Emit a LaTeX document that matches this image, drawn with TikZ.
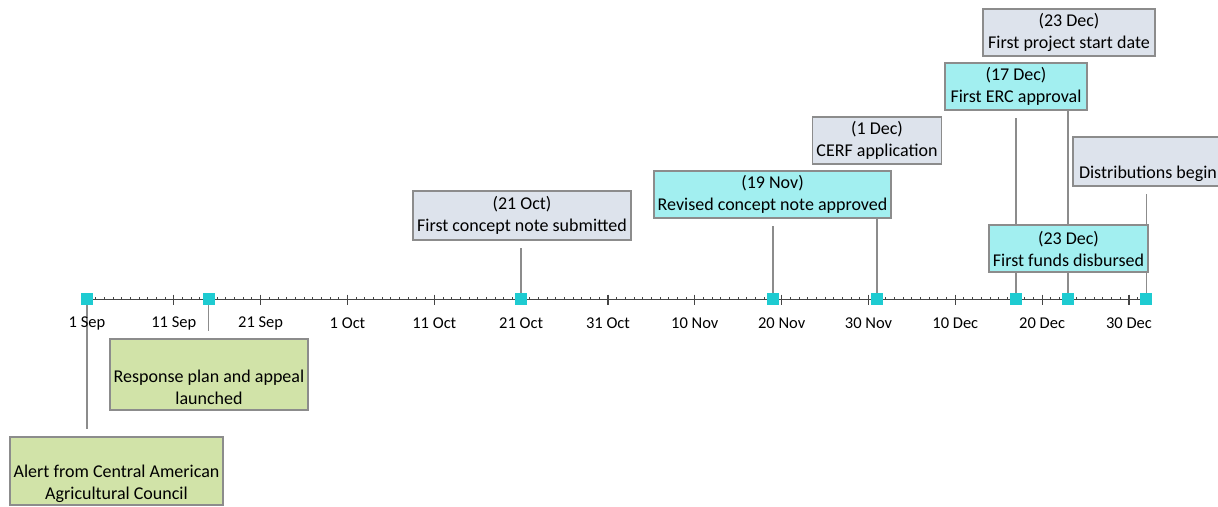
\documentclass[tikz,border=0pt]{standalone}
\usepackage{fontspec}
\setmainfont{Carlito}
\usetikzlibrary{positioning}
\definecolor{boxgray}{HTML}{DDE3EC}
\definecolor{boxcyan}{HTML}{A2EFF0}
\definecolor{boxgreen}{HTML}{D1E3A8}
\definecolor{edgegray}{HTML}{8C8C8C}
\definecolor{markcyan}{HTML}{1ECBD1}
\definecolor{axisgray}{HTML}{454545}
\pgfdeclarelayer{background}
\pgfsetlayers{background,main}
\begin{document}
\begin{tikzpicture}[x=1pt,y=-1pt,
  event/.style={draw=edgegray, line width=1.4pt, inner sep=0pt, align=center,
    font=\fontsize{18}{22}\selectfont, text=black},
  grayev/.style={event, fill=boxgray},
  cyanev/.style={event, fill=boxcyan},
  greenev/.style={event, fill=boxgreen},
  marker/.style={fill=markcyan, draw=none, minimum width=12pt, minimum height=12pt, inner sep=0pt},
  conn/.style={draw=edgegray, line width=1.4pt, shorten >=7pt},
  axisline/.style={draw=axisgray, line width=1.8pt},
  minortick/.style={draw=axisgray, line width=1pt},
  majortick/.style={draw=axisgray, line width=1.2pt},
  datelabel/.style={font=\fontsize{16.5}{18}\selectfont, text=black, inner sep=0pt}
]
\useasboundingbox (0,0) rectangle (1218,506);
\clip (0,0) rectangle (1218,506);

% time axis: 1 Sep is day 0, 8.683 units per day
\draw[axisline] (87,299.5) -- (1146,299.5);
\foreach \d in {0,...,122}
  \draw[minortick] ({87+\d*8.683},299.5) -- ++(0,-3);
\foreach \d in {0,10,...,120}
  \draw[majortick] ({87+\d*8.683},294.5) -- ++(0,10);
\foreach \lab [count=\i from 0] in {1 Sep,11 Sep,21 Sep,1 Oct,11 Oct,21 Oct,31 Oct,10 Nov,20 Nov,30 Nov,10 Dec,20 Dec,30 Dec}
  \node[datelabel] (tl\i) at ({87+\i*86.83},323) {\lab};

% milestone markers on the axis
\node[marker] (m1) at ({87+0*8.683},299) {};
\node[marker] (m2) at ({87+14*8.683},299) {};
\node[marker] (m3) at ({87+50*8.683},299) {};
\node[marker] (m4) at ({87+79*8.683},299) {};
\node[marker] (m5) at ({87+91*8.683},299) {};
\node[marker] (m6) at ({87+107*8.683},299) {};
\node[marker] (m7) at ({87+113*8.683},299) {};
\node[marker] (m8) at ({87+122*8.683},299) {};

% event boxes
\node[greenev, minimum width=213pt, minimum height=68pt] (b1) at (116.5,471)
  {\strut\\Alert from Central American \\Agricultural Council};
\node[greenev, minimum width=198pt, minimum height=71pt] (b2) at (209,374.5)
  {\strut\\Response plan and appeal \\launched};
\node[grayev, minimum width=218pt, minimum height=49pt] (b3) at (522,215.5)
  {(21 Oct)\\First concept note submitted};
\node[cyanev, minimum width=237pt, minimum height=47pt] (b4) at (772.5,194.5)
  {(19 Nov)\\Revised concept note approved};
\node[grayev, minimum width=129pt, minimum height=47pt] (b5) at (877,140.5)
  {(1 Dec)\\CERF application};
\node[cyanev, minimum width=142pt, minimum height=47pt] (b6) at (1016,86.5)
  {(17 Dec)\\First ERC approval};
\node[grayev, minimum width=172pt, minimum height=47pt] (b7) at (1069,32.5)
  {(23 Dec)\\First project start date};
\node[grayev, minimum width=150pt, minimum height=49pt] (b8) at (1148,161.5)
  {\strut\\Distributions begin};
\node[cyanev, minimum width=159pt, minimum height=47pt] (b9) at (1068.5,248.5)
  {(23 Dec)\\First funds disbursed};

% leader lines from markers to their boxes, behind everything
\begin{pgfonlayer}{background}
  \draw[conn] (m1) -- (m1 |- b1.north);
  \draw[conn] (m2) -- (m2 |- b2.north);
  \draw[conn] (m3) -- (m3 |- b3.south);
  \draw[conn] (m4) -- (m4 |- b4.south);
  \draw[conn] (m5) -- (m5 |- b5.south);
  \draw[conn] (m6) -- (m6 |- b6.south);
  \draw[conn] (m7) -- (m7 |- b7.south);
  \draw[conn] (m8) -- (m8 |- b8.south);
  \draw[conn] (m7) -- (m7 |- b9.south);
\end{pgfonlayer}
\end{tikzpicture}
\end{document}
